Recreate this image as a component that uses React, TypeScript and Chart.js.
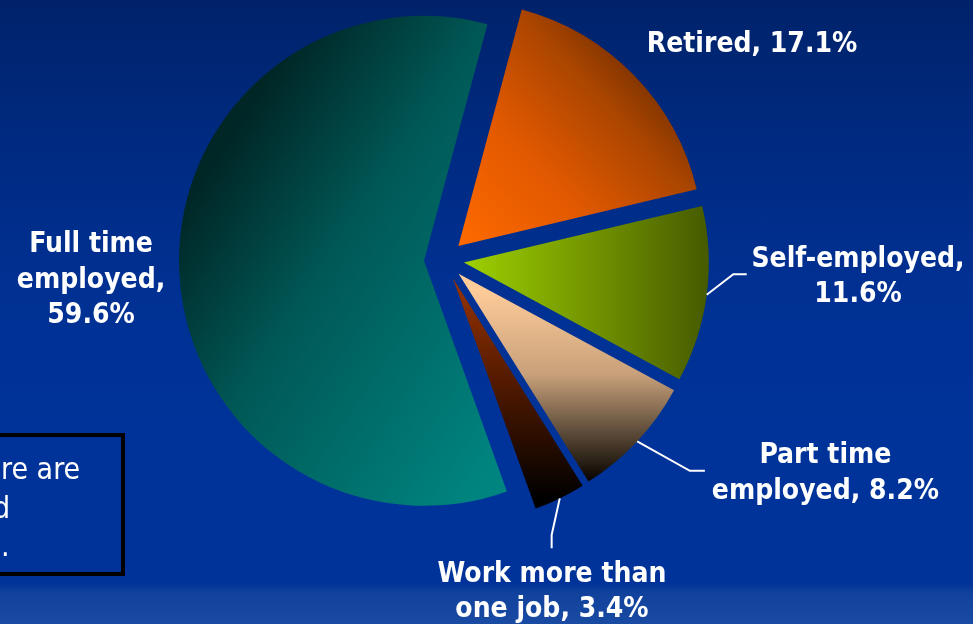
import React, { useEffect, useRef } from 'react';
import { Chart, registerables } from 'chart.js';

Chart.register(...registerables);

// ---------------- data ----------------
const categories = ['Retired', 'Self-employed', 'Part time employed', 'Work more than one job', 'Full time employed'];
const shares = [17.1, 11.6, 8.2, 3.4, 59.6];
const labelLines = [
  ['Retired, 17.1%'],
  ['Self-employed,', '11.6%'],
  ['Part time', 'employed, 8.2%'],
  ['Work more than', 'one job, 3.4%'],
  ['Full time', 'employed,', '59.6%'],
];
const noteLines = ['re are', 'd', '.'];

// ---------------- style ----------------
const W = 973;
const H = 624;
const CENTER_X = 444;
const CENTER_Y = 260;
const RADIUS = 245;
const EXPLODE = 20;
const ROTATION = 15;
const LINE_H = 35.5;

type Stop = [number, string];
const sliceGradients: { from: [number, number]; to: [number, number]; stops: Stop[] }[] = [
  { from: [0, 0], to: [0.77, -0.72], stops: [[0, '#FF6A00'], [0.45, '#E05800'], [0.8, '#AA4500'], [1, '#7A3100']] },
  { from: [0.02, 0], to: [1, 0], stops: [[0, '#9CCE00'], [0.5, '#739500'], [1, '#465A00']] },
  { from: [0, 0.06], to: [0, 0.84], stops: [[0, '#FFCC99'], [0.45, '#C8A07A'], [0.75, '#5E4C3A'], [1, '#0A0500']] },
  { from: [0, 0], to: [0, 0.9], stops: [[0, '#9A3400'], [0.5, '#4E1800'], [1, '#000000']] },
  { from: [-0.79, -0.52], to: [0.58, 0.385], stops: [[0, '#002626'], [0.38, '#005856'], [1, '#008480']] },
];

// offsets relative to the slice's outer-edge anchor (at mid angle)
const labelLayout: { text: [number, number]; leader: [number, number][] | null }[] = [
  { text: [118, -23.3], leader: null },
  { text: [151.3, -27.7], leader: [[26.6, -20.4], [40, -20.4]] },
  { text: [188.2, 21.7], leader: [[52.7, 29.4], [67.7, 29.4]] },
  { text: [-7.8, 83.6], leader: [[-8.1, 36.6], [-8.1, 49.9]] },
  { text: [-88.2, -18.6], leader: null },
];

function hasFont(name: string): boolean {
  const c = document.createElement('canvas').getContext('2d');
  if (!c) return false;
  const s = 'Retired, 17.1% mmmWWiil';
  c.font = '40px monospace';
  const a = c.measureText(s).width;
  c.font = `40px "${name}", monospace`;
  const b = c.measureText(s).width;
  return Math.abs(a - b) > 0.5;
}

function sliceFill(c: any) {
  const spec = sliceGradients[c.dataIndex];
  const area = c.chart.chartArea;
  if (!area || !spec) return spec ? spec.stops[0][1] : '#888888';
  const cx = (area.left + area.right) / 2;
  const cy = (area.top + area.bottom) / 2;
  const g = c.chart.ctx.createLinearGradient(
    cx + spec.from[0] * RADIUS,
    cy + spec.from[1] * RADIUS,
    cx + spec.to[0] * RADIUS,
    cy + spec.to[1] * RADIUS
  );
  spec.stops.forEach(([o, col]) => g.addColorStop(o, col));
  return g;
}

export default function App() {
  const canvasRef = useRef<HTMLCanvasElement | null>(null);
  const condensed = typeof document !== 'undefined' && hasFont('DejaVu Sans Condensed');
  const labelFont = condensed ? 'bold 28px "DejaVu Sans Condensed"' : 'bold 25px "DejaVu Sans"';
  const noteFamily = condensed ? '"DejaVu Sans Condensed"' : '"DejaVu Sans"';
  const noteSize = condensed ? 30 : 27;

  useEffect(() => {
    const canvas = canvasRef.current;
    if (!canvas) return;

    const explodePlugin = {
      id: 'explodeSlices',
      beforeDatasetsDraw(chart: any) {
        const ctx = chart.ctx;
        const meta = chart.getDatasetMeta(0);
        meta.data.forEach((el: any) => {
          const mid = (el.startAngle + el.endAngle) / 2;
          ctx.save();
          ctx.translate(Math.cos(mid) * EXPLODE, Math.sin(mid) * EXPLODE);
          el.draw(ctx);
          ctx.restore();
        });
        return false;
      },
    };

    const labelPlugin = {
      id: 'sliceLabels',
      afterDraw(chart: any) {
        const ctx = chart.ctx;
        const meta = chart.getDatasetMeta(0);
        ctx.save();
        meta.data.forEach((el: any, i: number) => {
          const lay = labelLayout[i];
          if (!lay) return;
          const mid = (el.startAngle + el.endAngle) / 2;
          const r = EXPLODE + el.outerRadius;
          const ax = el.x + Math.cos(mid) * r;
          const ay = el.y + Math.sin(mid) * r;
          if (lay.leader) {
            ctx.beginPath();
            ctx.strokeStyle = '#FFFFFF';
            ctx.lineWidth = 2;
            ctx.moveTo(ax, ay);
            lay.leader.forEach(([dx, dy]) => ctx.lineTo(ax + dx, ay + dy));
            ctx.stroke();
          }
          ctx.fillStyle = '#FFFFFF';
          ctx.font = labelFont;
          ctx.textAlign = 'center';
          ctx.textBaseline = 'alphabetic';
          labelLines[i].forEach((line, j) => {
            ctx.fillText(line, ax + lay.text[0], ay + lay.text[1] + j * LINE_H);
          });
        });
        ctx.restore();
      },
    };

    const chart = new Chart(canvas, {
      type: 'pie',
      data: {
        labels: categories,
        datasets: [
          {
            data: shares,
            backgroundColor: sliceFill as any,
            borderWidth: 0,
          },
        ],
      },
      options: {
        responsive: false,
        animation: false,
        events: [],
        rotation: ROTATION,
        radius: RADIUS,
        layout: {
          padding: { left: 0, top: 0, right: W - 2 * CENTER_X, bottom: H - 2 * CENTER_Y },
        },
        plugins: {
          legend: { display: false },
          tooltip: { enabled: false },
        },
      } as any,
      plugins: [explodePlugin, labelPlugin],
    });
    return () => chart.destroy();
  }, []);

  const ascent = noteSize * 0.846;
  const notePos = [
    { left: 1, baseline: 479 },
    { left: -7, baseline: 518 },
    { left: 1, baseline: 556 },
  ];

  return (
    <div
      style={{
        position: 'fixed',
        left: 0,
        top: 0,
        width: W,
        height: H,
        overflow: 'hidden',
        background:
          'linear-gradient(180deg, #00226a 0%, #002a80 22%, #003092 45%, #003399 70%, #003399 93.5%, #10419c 95%, #1a4ba3 100%)',
      }}
    >
      <canvas ref={canvasRef} width={W} height={H} style={{ position: 'absolute', left: 0, top: 0 }} />
      <div
        style={{
          position: 'absolute',
          left: -200,
          top: 433,
          width: 325,
          height: 143,
          border: '4.5px solid #000000',
          boxSizing: 'border-box',
        }}
      />
      {noteLines.map((t, i) => (
        <span
          key={i}
          style={{
            position: 'absolute',
            left: notePos[i].left,
            top: notePos[i].baseline - ascent,
            fontFamily: noteFamily,
            fontSize: noteSize,
            lineHeight: 1,
            color: '#FFFFFF',
            whiteSpace: 'pre',
          }}
        >
          {t}
        </span>
      ))}
    </div>
  );
}
